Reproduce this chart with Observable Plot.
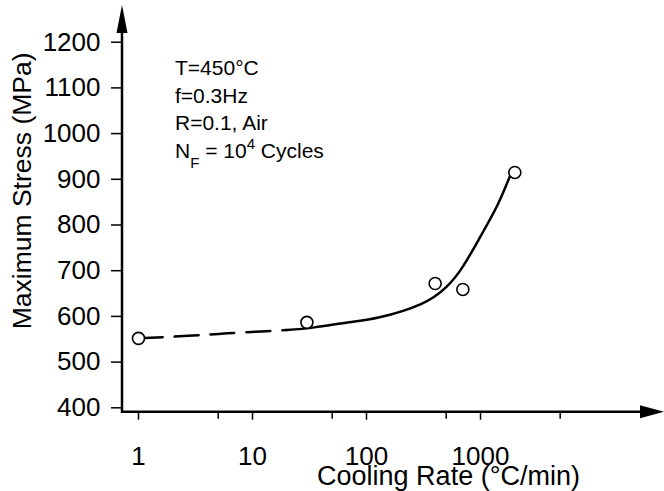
<!DOCTYPE html>
<html>
<head>
<meta charset="utf-8">
<script src="https://cdn.jsdelivr.net/npm/d3@7"></script>
<script src="https://cdn.jsdelivr.net/npm/@observablehq/plot@0.6"></script>
<style>
  html, body { margin: 0; padding: 0; background: #fff; }
</style>
</head>
<body>
<div id="chart"></div>
<script>
// ---- data ----
const yTicks = [400, 500, 600, 700, 800, 900, 1000, 1100, 1200];
const xMajorTicks = [1, 10, 100, 1000];
const xMinorTicks = [5, 50, 500, 5000];

const pointRate   = [1, 30, 400, 700, 2000];
const pointStress = [552, 587, 672, 659, 915];

const dashedRate   = [1, 3, 6, 12, 20];
const dashedStress = [552, 558, 563, 567, 570];

const solidRate   = [20, 35, 70, 130, 300, 500, 700, 1000, 1400, 1800];
const solidStress = [570, 576, 587, 598, 627, 664, 709, 775, 842, 905];

const annotationLines = ["T=450°C", "f=0.3Hz", "R=0.1, Air"];
const annotationLast = {base: "N", sub: "F", mid: " = 10", sup: "4", tail: " Cycles"};

const xTitle = "Cooling Rate (°C/min)";
const yTitle = "Maximum Stress (MPa)";

// ---- tables built from the arrays ----
const points = pointRate.map((r, i) => ({rate: r, stress: pointStress[i]}));
const dashed = dashedRate.map((r, i) => ({rate: r, stress: dashedStress[i]}));
const solid = solidRate.map((r, i) => ({rate: r, stress: solidStress[i]}));

const FONT = "'Liberation Sans', Arial, Helvetica, sans-serif";

// axis lines with arrowheads, drawn relative to the frame
function axesWithArrows(index, scales, values, dimensions) {
  const {width, height, marginLeft, marginBottom, marginTop} = dimensions;
  const x0 = marginLeft, y0 = height - marginBottom;
  const g = d3.create("svg:g").attr("fill", "black").attr("stroke", "black");
  g.append("line").attr("x1", x0).attr("x2", width - 20).attr("y1", y0).attr("y2", y0)
    .attr("stroke-width", 2.5);
  g.append("line").attr("x1", x0).attr("x2", x0).attr("y1", y0 + 1.2).attr("y2", marginTop + 24)
    .attr("stroke-width", 2.5);
  g.append("path").attr("stroke", "none")
    .attr("d", `M${width},${y0} L${width - 24},${y0 - 6.5} L${width - 24},${y0 + 6.5} Z`);
  g.append("path").attr("stroke", "none")
    .attr("d", `M${x0},${marginTop} L${x0 - 5.5},${marginTop + 28} L${x0 + 5.5},${marginTop + 28} Z`);
  return g.node();
}

// annotation block with subscript / superscript
function annotation(index, scales, values, dimensions) {
  const {marginLeft, marginTop} = dimensions;
  const left = marginLeft + 53;
  const first = marginTop + 70;
  const step = 27.7;
  const g = d3.create("svg:g")
    .attr("font-family", FONT).attr("font-size", 21).attr("fill", "black")
    .attr("text-anchor", "start");
  annotationLines.forEach((t, i) => {
    g.append("text").attr("x", left).attr("y", first + i * step).text(t);
  });
  const t = g.append("text").attr("x", left).attr("y", first + 3 * step);
  t.append("tspan").text(annotationLast.base);
  t.append("tspan").attr("font-size", 15).attr("dy", 10).text(annotationLast.sub);
  t.append("tspan").attr("dy", -10).text(annotationLast.mid);
  t.append("tspan").attr("font-size", 15).attr("dy", -9).text(annotationLast.sup);
  t.append("tspan").attr("dy", 9).text(annotationLast.tail);
  return g.node();
}

const chart = Plot.plot({
  width: 664,
  height: 491,
  marginLeft: 122,
  marginTop: 5,
  marginRight: 0,
  marginBottom: 79.3,
  style: {fontFamily: FONT, fontSize: "26px", color: "black", background: "white", overflow: "visible"},
  x: {type: "log", domain: [1, 10000], range: [138, 594]},
  y: {domain: [400, 1200], range: [407.3, 41.7]},
  marks: [
    Plot.axisY({ticks: yTicks, tickSize: 11, tickPadding: 11, strokeWidth: 1.5, label: null, tickFormat: d => String(d)}),
    Plot.axisX({ticks: xMajorTicks, tickSize: 8, tickPadding: 26, strokeWidth: 1.5, label: null, tickFormat: d => String(d)}),
    Plot.axisX({ticks: xMinorTicks, tickSize: 7, tickPadding: 0, strokeWidth: 1.5, label: null, tickFormat: () => ""}),
    Plot.text([xTitle], {frameAnchor: "bottom", text: d => d, textAnchor: "middle", dx: 55, dy: 64, lineAnchor: "middle", fontSize: 27}),
    Plot.text([yTitle], {frameAnchor: "left", text: d => d, textAnchor: "middle", rotate: -90, dx: -100, dy: -18, lineAnchor: "middle", fontSize: 26.5}),
    axesWithArrows,
    Plot.line(dashed, {x: "rate", y: "stress", curve: "natural", stroke: "black", strokeWidth: 2.5, strokeDasharray: "24,12"}),
    Plot.line(solid, {x: "rate", y: "stress", curve: "natural", stroke: "black", strokeWidth: 2.5}),
    Plot.dot(points, {x: "rate", y: "stress", r: 6, fill: "white", stroke: "black", strokeWidth: 1.6}),
    annotation
  ]
});

document.getElementById("chart").appendChild(chart);
</script>
</body>
</html>
